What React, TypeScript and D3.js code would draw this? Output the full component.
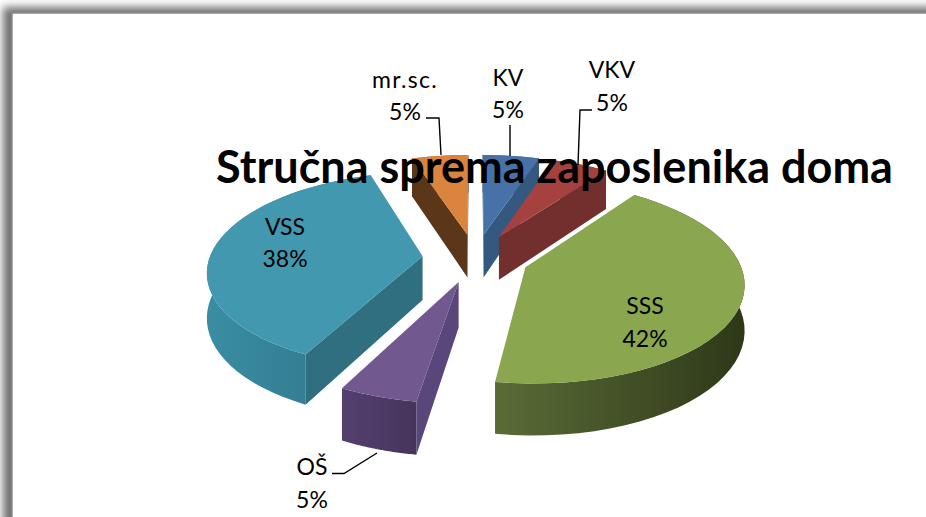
import React from 'react';
import * as d3 from 'd3';

const width = 926;
const height = 517;

// data (labels are rounded)
const categories = ['KV', 'VKV', 'SSS', 'OŠ', 'VSS', 'mr.sc.'];
const shares = [5, 5, 42.45, 5, 37.55, 5];
const title = 'Stručna sprema zaposlenika doma';

// styles, same order as categories
const topColors = ['#4672A8', '#A5423F', '#8AA64E', '#71588F', '#4198AF', '#DA843D'];
const cutColors = ['#34587F', '#722F2E', '#56682F', '#59467A', '#2F6F80', '#5B3618'];
const wallFrom = ['#3F6795', '#7F3432', '#5A6C36', '#54406F', '#3A8DA3', '#A8622B'];
const wallTo = ['#34587F', '#6A2B2A', '#2E3819', '#46345C', '#2F7488', '#7A4820'];

// label layout (centre x, first line y, second line y, leader points)
const labelLayout: { x: number; y1: number; y2: number; spacing?: number; leader?: [number, number][] }[] = [
  { x: 508, y1: 86, y2: 118, leader: [[510, 125], [510, 156]] },
  { x: 612, y1: 78, y2: 111, leader: [[592, 110], [580, 110], [578, 165]] },
  { x: 645, y1: 314, y2: 347 },
  { x: 312, y1: 475, y2: 508, leader: [[332, 473.5], [344, 473.5], [377, 453]] },
  { x: 285, y1: 235, y2: 267 },
  { x: 405, y1: 88, y2: 120, spacing: 1.3, leader: [[426, 118], [439, 118], [441, 155]] },
];

// fake 3D perspective of the pie disc
const cx = 475.5;
const cy = 258;
const scaleU = 213;
const scaleV = 97;
const persp = 0.14;
const depth = 44;
const explode = 0.25;

type P = [number, number];

function project(u: number, v: number, z: number): P {
  const w = 1 + persp * v;
  return [cx + (scaleU * u) / w, cy + (-scaleV * v + depth * z) / w];
}

const line = d3.line<P>();

const pieData = d3.pie<number>().sort(null)(shares);

const slices = pieData.map((d, i) => {
  const mid = (d.startAngle + d.endAngle) / 2;
  const ou = explode * Math.sin(mid);
  const ov = explode * Math.cos(mid);
  const at = (a: number, r: number, z: number) =>
    project(ou + r * Math.sin(a), ov + r * Math.cos(a), z);
  const steps = d3.range(0, 41).map(k => d.startAngle + ((d.endAngle - d.startAngle) * k) / 40);
  const rimTop = steps.map(a => at(a, 1, 0));
  const rimBottom = steps.map(a => at(a, 1, 1));
  const apexTop = at(0, 0, 0);
  const apexBottom = at(0, 0, 1);
  const startPoly: P[] = [apexTop, rimTop[0], rimBottom[0], apexBottom];
  const endPoly: P[] = [apexTop, rimTop[40], rimBottom[40], apexBottom];
  // only the cut faces turned towards the viewer get drawn
  const cuts: P[][] = [];
  if (d3.polygonArea(startPoly) > 0) cuts.push(startPoly);
  if (d3.polygonArea(endPoly) < 0) cuts.push(endPoly);
  return {
    i,
    top: line([apexTop, ...rimTop])! + 'Z',
    wall: line([...rimTop, ...rimBottom.slice().reverse()])! + 'Z',
    cuts: cuts.map(c => line(c)! + 'Z'),
    x0: d3.min(rimTop, p => p[0])!,
    x1: d3.max(rimTop, p => p[0])!,
  };
});

// back slices first
const paintOrder = [0, 5, 1, 4, 3, 2];

const font = 'Lato, "Open Sans", sans-serif';

export default function App() {
  return (
    <svg
      width={width}
      height={height}
      viewBox={`0 0 ${width} ${height}`}
      style={{ position: 'absolute', left: 0, top: 0, background: '#fff' }}
    >
      <defs>
        <filter id="frameBlur" x="-5%" y="-10%" width="110%" height="120%">
          <feGaussianBlur stdDeviation="4.5" />
        </filter>
        {slices.map(s => (
          <linearGradient
            key={s.i}
            id={`wall${s.i}`}
            gradientUnits="userSpaceOnUse"
            x1={s.x0}
            x2={s.x1}
            y1={0}
            y2={0}
          >
            <stop offset="0" stopColor={wallFrom[s.i]} />
            <stop offset="1" stopColor={wallTo[s.i]} />
          </linearGradient>
        ))}
      </defs>

      {/* frame shadow */}
      <rect x={3} y={7} width={1000} height={600} fill="#6f6f6f" filter="url(#frameBlur)" />
      <rect x={12} y={13} width={1000} height={600} fill="#fff" stroke="#8c8c8c" strokeWidth={1.5} />

      {paintOrder.map(i => {
        const s = slices[i];
        return (
          <g key={categories[i]}>
            <path d={s.wall} fill={`url(#wall${i})`} />
            {s.cuts.map((c, k) => (
              <path key={k} d={c} fill={cutColors[i]} />
            ))}
            <path d={s.top} fill={topColors[i]} />
          </g>
        );
      })}

      {labelLayout.map((l, i) => (
        <g key={categories[i]} fontFamily={font} fontSize={23} fill="#000" textAnchor="middle">
          {l.leader && (
            <path d={line(l.leader)!} fill="none" stroke="#000" strokeWidth={1.4} />
          )}
          <text x={l.x} y={l.y1} letterSpacing={l.spacing}>{categories[i]}</text>
          <text x={l.x} y={l.y2}>{Math.round(shares[i])}%</text>
        </g>
      ))}

      <text x={554.5} y={183} textAnchor="middle" fontFamily={font} fontWeight={700} fontSize={45} fill="#000">
        {title}
      </text>
    </svg>
  );
}
